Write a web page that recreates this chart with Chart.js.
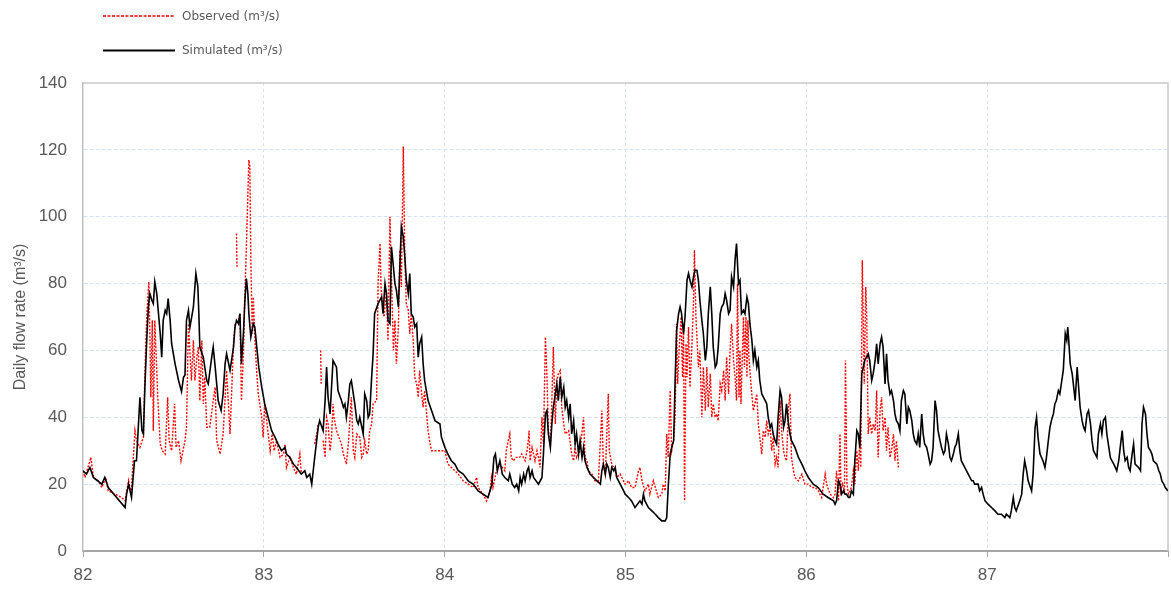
<!DOCTYPE html>
<html>
<head>
<meta charset="utf-8">
<script src="https://cdn.jsdelivr.net/npm/chart.js@4.4.0/dist/chart.umd.min.js"></script>
<style>
  html, body { margin: 0; padding: 0; background: #ffffff; }
  #wrap { width: 1171px; height: 590px; }
</style>
</head>
<body>
<div id="wrap"><canvas id="flow" width="1171" height="590"></canvas></div>
<script>
// Year labels on the time axis (one tick per 365.25 days from 1 Jan 1982)
const yearLabels = ['82', '83', '84', '85', '86', '87'];
const flowTicks = [0, 20, 40, 60, 80, 100, 120, 140];

// Simulated daily flow: [day since 1 Jan 1982, m3/s]
const simulated = [
  [0,24],[7,23],[14,25],[21,22],[38,20],[44,22],[51,19],[85,13],[88,17],[92,20],[98,16],[104,27],[108,27],
  [115,46],[119,36],[122,35],[125,49],[129,64],[132,73],[135,77],[139,75],[142,74],[145,80.5],[149,77],
  [156,65],[159,58],[162,69],[166,72],[169,71],[172,75.5],[176,69],[179,62],[186,56],[193,51],[199,47.7],
  [203,52],[206,52.6],[209,69],[213,72],[216,67],[223,73],[226,79],[228,83],[232,79],[234,71],[236,61],
  [243,58],[250,51],[253,50],[260,58],[263,61],[267,55],[273,45],[279,42],[283,47],[287,56],[290,59],
  [297,54],[304,61],[307,67],[310,69],[314,68],[317,71],[320,56],[324,65],[327,75],[330,81.5],[333,77],
  [335,71],[339,64],[344,68],[347,67],[351,61],[355,55],[361,49],[367,44],[374,40],[381,36],[388,34],
  [394,32],[401,30],[408,31],[411,29],[418,28],[425,26],[431,25],[441,23],[448,24],[452,22],[458,23],
  [462,20],[465,24],[468,28],[472,33],[475,37],[478,39],[485,36],[489,45],[492,55],[495,46],[499,41],
  [502,49],[505,57],[512,55],[515,48],[522,45],[526,43],[529,44],[532,40],[536,45],[539,50],[542,51],
  [546,47],[549,44],[553,39],[556,38],[559,40],[566,35],[569,47],[573,45],[576,40],[579,41],[583,52],
  [586,59],[589,71],[596,74],[603,76],[606,71],[610,80],[613,77],[616,69],[620,68],[623,91],[627,85],
  [630,80],[633,78],[637,73],[640,85],[643,97],[647,94],[650,88],[653,81],[657,77],[660,83],[663,71],
  [667,70],[670,67],[674,68],[677,58],[680,62],[684,64],[687,56],[690,51],[697,45],[704,42],[711,39],
  [721,38],[724,34],[731,31],[737,29],[744,27],[751,26],[758,24],[768,23],[778,21],[788,20],[798,18],
  [808,17],[818,16],[824,19],[826,20],[830,28],[833,29],[837,24],[842,27],[847,23],[852,22],[859,21],
  [862,23],[867,20],[872,19],[876,20],[880,18],[883,22],[886,20],[890,23],[893,21],[897,24],[900,25],
  [903,22],[907,24],[910,22],[920,20],[927,22],[930,29],[934,41],[937,42],[940,35],[944,31],[947,38],
  [950,43],[954,47],[957,50],[960,45],[964,52],[967,46],[971,49],[974,43],[977,45],[981,40],[984,44],
  [987,35],[991,39],[994,32],[997,35],[1001,29],[1004,33],[1008,28],[1011,31],[1014,27],[1018,25],
  [1024,23],[1031,22],[1038,21],[1045,20],[1048,24],[1051,26],[1055,23],[1058,26],[1061,25],[1065,22],
  [1068,25],[1072,24],[1075,25],[1078,22],[1085,20],[1092,18],[1095,17],[1102,16],[1108,15],[1115,13],
  [1125,15],[1129,14],[1132,17],[1135,15],[1142,13],[1149,12],[1156,11],[1162,10],[1169,9],[1176,9],
  [1179,10],[1182,19],[1186,29],[1189,31],[1193,33],[1196,51],[1199,66],[1203,71],[1206,73],[1209,71],
  [1213,65],[1216,70],[1220,81],[1223,83],[1226,81],[1230,79],[1233,82],[1236,84],[1240,84],[1243,81],
  [1246,75],[1250,69],[1253,65],[1257,57],[1260,61],[1263,71],[1267,79],[1270,71],[1273,61],[1277,55],
  [1280,56],[1283,61],[1287,71],[1290,73],[1294,74],[1297,77],[1300,75],[1304,71],[1307,72],[1310,82],
  [1314,79],[1317,87],[1320,92],[1324,80],[1327,81],[1330,71],[1334,72],[1337,71],[1341,76],[1344,74],
  [1347,68],[1351,63],[1354,57],[1357,60],[1361,55],[1364,57],[1367,51],[1371,47],[1378,45],[1381,44],
  [1384,40],[1388,37],[1391,38],[1394,35],[1398,33],[1401,32],[1404,40],[1408,48],[1411,46],[1415,37],
  [1418,39],[1421,44],[1425,38],[1428,35],[1431,33],[1438,31],[1445,28],[1452,26],[1458,24],[1465,22],
  [1475,20],[1485,19],[1495,17],[1505,16],[1516,15],[1519,14],[1522,15],[1526,21],[1529,20],[1532,17],
  [1536,18],[1539,17],[1542,17],[1546,16],[1549,16],[1552,18],[1556,17],[1559,27],[1563,36],[1566,35],
  [1569,31],[1573,53],[1576,55],[1579,57],[1586,59],[1589,57],[1593,51],[1596,53],[1600,57],[1603,62],
  [1606,56],[1610,62],[1613,64],[1616,61],[1620,50],[1623,59],[1626,51],[1630,47],[1633,48],[1637,45],
  [1640,41],[1643,39],[1647,38],[1650,36],[1653,45],[1657,48],[1660,47],[1664,38],[1667,43],[1670,42],
  [1674,39],[1677,35],[1680,33],[1684,32],[1687,35],[1690,31],[1694,41],[1697,35],[1700,32],[1704,31],
  [1707,29],[1711,26],[1714,27],[1717,31],[1721,45],[1724,42],[1727,36],[1731,33],[1734,31],[1738,29],
  [1741,30],[1744,35],[1748,32],[1751,28],[1754,27],[1758,29],[1761,31],[1764,32],[1768,35],[1771,30],
  [1774,27],[1781,25],[1788,23],[1795,21],[1798,21],[1801,20],[1808,20],[1811,18],[1815,19],[1818,17],
  [1822,15],[1828,14],[1835,13],[1842,12],[1848,11],[1855,11],[1862,10],[1865,11],[1872,10],[1875,12],
  [1879,16],[1882,13],[1885,12],[1892,15],[1896,17],[1899,23],[1902,27],[1906,24],[1909,21],[1916,18],
  [1919,23],[1923,37],[1926,40],[1929,34],[1933,29],[1939,27],[1943,25],[1946,28],[1949,32],[1953,37],
  [1956,39],[1960,41],[1963,44],[1966,45],[1970,48],[1973,47],[1976,50],[1980,54],[1984,65],[1987,63],
  [1989,67],[1991,63],[1994,56],[1998,53],[2001,49],[2004,45],[2008,55],[2011,49],[2014,43],[2018,39],
  [2021,37],[2024,36],[2028,41],[2031,42],[2035,38],[2038,33],[2041,30],[2048,28],[2051,35],[2055,38],
  [2058,35],[2061,39],[2065,40],[2068,35],[2072,31],[2075,28],[2078,27],[2082,26],[2085,25],[2088,24],
  [2092,27],[2095,31],[2099,36],[2102,30],[2105,27],[2109,28],[2112,25],[2115,24],[2119,29],[2122,32],
  [2125,26],[2132,25],[2136,24],[2139,38],[2142,43],[2146,41],[2149,35],[2152,31],[2156,30],[2159,29],
  [2162,27],[2169,26],[2173,24],[2176,23],[2179,21],[2183,20],[2186,19],[2191,18]
];

// Observed daily flow: [day since 1 Jan 1982, m3/s]; null marks a missing record
const observed = [
  [0,24],[4,22],[16,28],[21,22],[31,21],[38,19],[46,22],[51,18],[65,17],[78,16],[85,15],[92,21],[97,17],
  [105,36],[108,33],[115,31],[122,34],[125,53],[129,71],[133,80.5],[135,66],[137,46],[140,69],[142,36],
  [145,69],[151,46],[156,32],[160,30],[166,29],[171,46],[174,33],[179,30],[185,44],[188,31],[193,33],
  [198,27],[206,33],[209,37],[213,68],[219,51],[223,63],[226,51],[230,58],[233,61],[236,45],[240,63],
  [243,44],[246,52],[250,37],[256,37],[263,45],[267,49],[270,33],[277,29],[283,35],[290,54],[297,35],
  [304,62],[307,68],[308,null],[310,95],[311,85],[312,null],[314,69],[317,71],[320,45],[324,59],[327,77],
  [330,91],[335,117],[337,115],[339,87],[342,65],[344,76],[347,64],[351,53],[354,47],[361,40],[364,34],
  [367,44],[371,39],[378,30],[382,35],[386,30],[391,33],[398,28],[405,29],[408,32],[411,25],[418,28],
  [425,25],[431,23],[438,29],[441,23],[442,null],[468,32],[472,35],[475,38],[477,null],[480,60],[481,50],
  [482,null],[485,33],[489,28],[492,40],[495,38],[499,30],[502,34],[505,44],[507,40],[512,36],[522,32],
  [526,29],[532,26],[536,32],[542,46],[546,30],[549,28],[553,35],[559,34],[563,28],[566,29],[569,33],
  [573,29],[576,30],[579,36],[583,38],[586,44],[593,45],[596,80],[600,92],[602,79],[604,75],[608,70],
  [613,78],[616,63],[620,100],[623,82],[627,60],[630,69],[633,56],[637,67],[640,90],[643,79],[647,121],
  [650,88],[653,74],[657,72],[660,65],[663,71],[667,63],[670,52],[674,50],[677,46],[680,54],[684,47],
  [687,43],[690,48],[694,41],[697,36],[700,33],[704,30],[731,30],[737,26],[744,25],[751,24],[758,23],
  [768,21],[778,20],[788,19],[795,22],[798,19],[808,17],[815,15],[822,18],[825,22],[828,19],[835,24],
  [842,26],[852,24],[855,30],[859,33],[862,35],[865,28],[869,27],[875,28],[882,28],[886,29],[893,27],
  [897,30],[900,34],[901,36],[903,27],[907,31],[913,27],[917,30],[920,28],[923,25],[927,40],[930,32],
  [934,64],[937,53],[940,36],[944,31],[947,45],[950,61],[954,38],[957,51],[960,53],[964,54],[967,43],
  [971,38],[974,35],[981,36],[987,29],[991,27],[994,31],[997,28],[1004,30],[1011,40],[1014,28],[1018,27],
  [1021,24],[1028,23],[1034,21],[1041,21],[1048,42],[1051,26],[1055,23],[1061,47],[1063,30],[1068,26],
  [1075,24],[1078,22],[1085,23],[1095,20],[1102,21],[1108,19],[1115,19],[1122,24],[1125,25],[1129,21],
  [1135,18],[1142,20],[1145,17],[1152,21],[1156,19],[1162,16],[1169,17],[1172,20],[1176,18],[1179,35],
  [1182,28],[1186,48],[1189,30],[1193,33],[1196,40],[1199,68],[1201,50],[1204,60],[1208,70],[1211,52],
  [1213,68],[1215,15],[1218,62],[1220,52],[1223,67],[1226,49],[1230,62],[1233,74],[1235,90],[1238,70],
  [1240,64],[1243,55],[1246,60],[1250,40],[1253,55],[1257,42],[1260,55],[1263,43],[1267,53],[1270,40],
  [1273,44],[1277,40],[1280,41],[1283,39],[1287,50],[1290,48],[1294,54],[1297,45],[1300,58],[1304,47],
  [1307,60],[1310,68],[1314,57],[1317,52],[1320,45],[1322,80],[1325,46],[1327,60],[1329,44],[1334,70],
  [1336,55],[1339,70],[1341,52],[1343,69],[1345,58],[1349,50],[1354,42],[1357,44],[1361,47],[1364,38],
  [1367,34],[1371,29],[1374,36],[1378,34],[1381,39],[1384,35],[1388,37],[1391,30],[1394,34],[1398,26],
  [1401,28],[1404,25],[1408,45],[1411,36],[1415,30],[1418,28],[1421,27],[1425,43],[1428,47],[1431,28],
  [1435,24],[1438,22],[1445,21],[1452,23],[1458,20],[1465,20],[1472,19],[1479,19],[1485,18],[1492,16],
  [1499,23],[1502,20],[1509,17],[1516,16],[1519,17],[1522,24],[1526,15],[1529,35],[1531,18],[1534,20],
  [1538,18],[1540,57],[1543,20],[1546,17],[1552,19],[1556,24],[1559,20],[1563,30],[1566,24],[1569,33],
  [1571,25],[1574,87],[1578,50],[1581,79],[1583,70],[1586,35],[1589,40],[1593,35],[1596,38],[1600,36],
  [1603,48],[1606,28],[1610,42],[1613,46],[1616,36],[1620,40],[1623,30],[1626,37],[1630,28],[1633,30],
  [1637,35],[1640,27],[1643,33],[1647,25]
];

const DAYS_PER_YEAR = 365.25;
const toPoints = rows => rows.map(([d, q]) => ({ x: d, y: q }));

const textGrey = '#595959';
const gridBlue = '#d5e3f1';
const tickFont = { family: "'Liberation Sans', Arial, sans-serif", size: 17 };

// Two-row legend in the top-left margin, drawn from the dataset styles
const stackedLegend = {
  id: 'stackedLegend',
  afterDraw(chart) {
    const { ctx } = chart;
    const rows = [16, 50.5];
    ctx.save();
    chart.data.datasets.forEach((ds, i) => {
      const y = rows[i];
      ctx.beginPath();
      ctx.setLineDash(ds.legendDash || []);
      ctx.strokeStyle = ds.borderColor;
      ctx.lineWidth = ds.legendWidth;
      ctx.moveTo(103, y);
      ctx.lineTo(175, y);
      ctx.stroke();
      ctx.setLineDash([]);
      ctx.fillStyle = textGrey;
      ctx.font = "12px 'DejaVu Sans', 'Liberation Sans', sans-serif";
      ctx.textBaseline = 'middle';
      ctx.textAlign = 'left';
      ctx.fillText(ds.label, 182, y + 0.5);
    });
    ctx.restore();
  }
};

// Top and right edges of the plot frame
const plotFrame = {
  id: 'plotFrame',
  beforeDatasetsDraw(chart) {
    const { ctx, chartArea: a } = chart;
    ctx.save();
    ctx.strokeStyle = '#c9c9c9';
    ctx.lineWidth = 1.5;
    ctx.beginPath();
    ctx.moveTo(a.left, a.top);
    ctx.lineTo(a.right, a.top);
    ctx.lineTo(a.right, a.bottom);
    ctx.stroke();
    ctx.restore();
  }
};

new Chart(document.getElementById('flow'), {
  type: 'line',
  data: {
    datasets: [
      {
        label: 'Observed (m³/s)',
        data: toPoints(observed),
        borderColor: '#ff0000',
        borderWidth: 1.4,
        borderDash: [2, 1.5],
        legendDash: [3, 1.5],
        legendWidth: 1.3,
        spanGaps: false,
        order: 1
      },
      {
        label: 'Simulated (m³/s)',
        data: toPoints(simulated),
        borderColor: '#000000',
        borderWidth: 1.6,
        legendWidth: 2,
        order: 0
      }
    ]
  },
  options: {
    responsive: false,
    animation: false,
    devicePixelRatio: 1,
    layout: { padding: { top: 83, right: 3, bottom: 0, left: 0 } },
    elements: { point: { radius: 0 }, line: { tension: 0 } },
    plugins: { legend: { display: false }, tooltip: { enabled: false } },
    scales: {
      x: {
        type: 'linear',
        min: 0,
        max: DAYS_PER_YEAR * yearLabels.length,
        afterBuildTicks(scale) {
          scale.ticks = [0, 1, 2, 3, 4, 5, 6].map(i => ({ value: i * DAYS_PER_YEAR }));
        },
        afterFit(scale) {
          scale.height = 39;
          scale.paddingLeft = 0;
          scale.paddingRight = 0;
        },
        ticks: {
          autoSkip: false,
          maxRotation: 0,
          color: textGrey,
          font: tickFont,
          padding: 8,
          callback: (v, i) => yearLabels[i] ?? ''
        },
        grid: {
          color: ctx => (ctx.index === 0 || ctx.index === 6) ? 'rgba(0,0,0,0)' : gridBlue,
          lineWidth: 1,
          drawTicks: true,
          tickLength: 6,
          tickColor: '#a6a6a6',
          tickWidth: 1
        },
        border: { display: true, color: '#a6a6a6', width: 2, dash: [3, 3] }
      },
      y: {
        min: 0,
        max: 140,
        afterBuildTicks(scale) {
          scale.ticks = flowTicks.map(v => ({ value: v }));
        },
        afterFit(scale) { scale.width = 83; },
        ticks: { color: textGrey, font: tickFont, padding: 16 },
        grid: {
          color: ctx => (ctx.tick && (ctx.tick.value === 0 || ctx.tick.value === 140)) ? 'rgba(0,0,0,0)' : gridBlue,
          lineWidth: 1,
          drawTicks: false
        },
        border: { display: true, color: '#bfbfbf', width: 1.5, dash: [4, 2] },
        title: {
          display: true,
          text: 'Daily flow rate (m³/s)',
          color: textGrey,
          font: { family: "'Liberation Sans', Arial, sans-serif", size: 16 },
          padding: { top: 11, bottom: 0 }
        }
      }
    }
  },
  plugins: [stackedLegend, plotFrame]
});
</script>
</body>
</html>
